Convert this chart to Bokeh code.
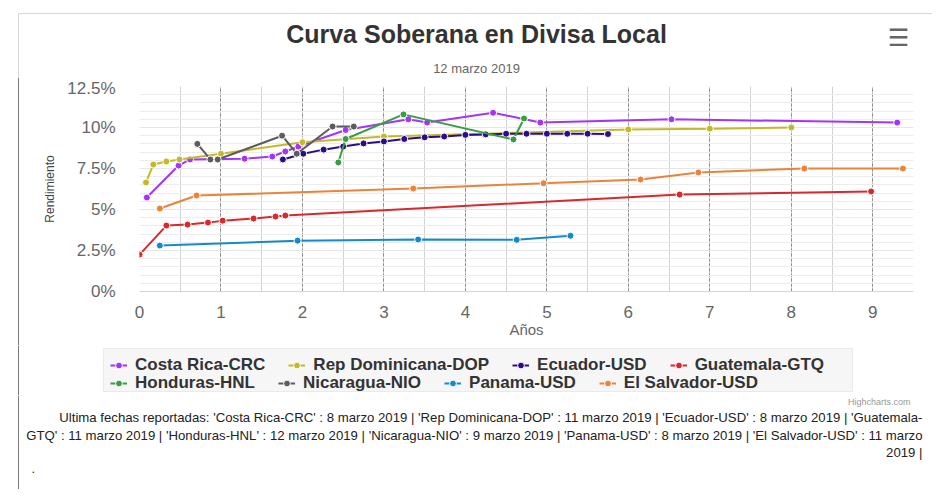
from bokeh.plotting import figure
from bokeh.layouts import column, row
from bokeh.models import (Range1d, SingleIntervalTicker, CustomJSTickFormatter, Label,
                          Legend, LegendItem, BoxAnnotation, Span, Spacer)
from bokeh.embed import file_html
from bokeh.resources import INLINE

# ---------------- data (years to maturity, yield %) ----------------
series_names = ["Costa Rica-CRC", "Rep Dominicana-DOP", "Ecuador-USD", "Guatemala-GTQ",
                "Honduras-HNL", "Nicaragua-NIO", "Panama-USD", "El Salvador-USD"]
series_colors = ["#a335f5", "#c2b92b", "#2b0c8a", "#d8292e",
                 "#3a9d46", "#5c5c5c", "#1789c9", "#e8843c"]

cr_x = [0.09, 0.48, 0.62, 1.29, 1.63, 1.79, 1.95, 2.53, 3.30, 3.53, 4.34, 4.92, 6.53, 9.30]
cr_y = [5.73, 7.68, 8.05, 8.10, 8.23, 8.54, 8.84, 9.85, 10.50, 10.30, 10.90, 10.30, 10.50, 10.30]

rd_x = [0.08, 0.17, 0.33, 0.49, 1.00, 2.00, 3.00, 6.00, 7.00, 8.00]
rd_y = [6.65, 7.74, 7.93, 8.05, 8.40, 9.10, 9.45, 9.88, 9.93, 10.00]

ec_x = [1.76, 2.01, 2.26, 2.50, 2.75, 3.00, 3.25, 3.50, 3.74, 4.00, 4.25, 4.50, 4.75, 5.00, 5.25, 5.50, 5.75]
ec_y = [8.05, 8.40, 8.65, 8.84, 9.03, 9.15, 9.30, 9.40, 9.45, 9.55, 9.58, 9.62, 9.62, 9.62, 9.62, 9.62, 9.60]

gt_x = [0.00, 0.33, 0.59, 0.84, 1.02, 1.40, 1.67, 1.79, 6.63, 8.98]
gt_y = [2.25, 4.02, 4.08, 4.20, 4.32, 4.45, 4.57, 4.63, 5.91, 6.10]

hn_x = [2.44, 2.53, 3.24, 4.59, 4.72]
hn_y = [7.87, 9.30, 10.80, 9.27, 10.55]

ni_x = [0.71, 0.87, 0.96, 1.75, 1.93, 2.37, 2.63]
ni_y = [9.00, 8.05, 8.05, 9.50, 8.40, 10.06, 10.06]

pa_x = [0.25, 1.94, 3.42, 4.63, 5.29]
pa_y = [2.80, 3.10, 3.17, 3.15, 3.40]

sv_x = [0.25, 0.70, 3.36, 4.96, 6.15, 6.86, 8.16, 9.37]
sv_y = [5.06, 5.85, 6.28, 6.60, 6.83, 7.26, 7.50, 7.50]

series_x = [cr_x, rd_x, ec_x, gt_x, hn_x, ni_x, pa_x, sv_x]
series_y = [cr_y, rd_y, ec_y, gt_y, hn_y, ni_y, pa_y, sv_y]

title_text = "Curva Soberana en Divisa Local"
subtitle_text = "12 marzo 2019"
x_label = "Años"
y_label = "Rendimiento"
credit_text = "Highcharts.com"
footer_lines = [
    "Ultima fechas reportadas: 'Costa Rica-CRC' : 8 marzo 2019 | 'Rep Dominicana-DOP' : 11 marzo 2019 | 'Ecuador-USD' : 8 marzo 2019 | 'Guatemala-",
    "GTQ' : 11 marzo 2019 | 'Honduras-HNL' : 12 marzo 2019 | 'Nicaragua-NIO' : 9 marzo 2019 | 'Panama-USD' : 8 marzo 2019 | 'El Salvador-USD' : 11 marzo",
    "2019 |",
]

# ---------------- layout geometry (page pixels) ----------------
W = 932
FONT = "Liberation Sans"
BORDER = "#7a7a7a"

H_HEAD = 78          # page y 0..78
H_MAIN = 267         # page y 78..345
H_LEG = 50           # page y 345..395
H_FOOT = 94          # page y 395..489
STRIP = 19           # left strip holding the outer frame line

FL, FT, FR, FB = 139, 86, 913, 291   # plot frame on page
XMAX, YMAX = 9.5, 12.5


def blank(width, height):
    f = figure(width=width, height=height, output_backend="svg", toolbar_location=None,
               x_range=Range1d(0, width), y_range=Range1d(height, 0),
               x_axis_location=None, y_axis_location=None, min_border=0)
    f.grid.visible = False
    f.outline_line_color = None
    f.background_fill_color = "white"
    f.border_fill_color = "white"
    return f


def add_label(f, x, y, text, size, color="#333333", align="center", style="normal", font=FONT):
    f.add_layout(Label(x=x, y=y, text=text, text_align=align, text_baseline="middle",
                       text_font=font, text_font_size=size, text_color=color,
                       text_font_style=style))


# ---------------- header ----------------
head = blank(W, H_HEAD)
head.add_layout(BoxAnnotation(left=18, right=W + 20, top=13, bottom=H_HEAD + 20,
                              fill_alpha=0, line_color=BORDER, line_width=1))
add_label(head, 476, 33, title_text, "25px", "#333333", style="bold")
add_label(head, 476, 68, subtitle_text, "13px", "#666666")
add_label(head, 898, 37, "☰", "24px", "#666666", style="bold", font="DejaVu Sans")

# ---------------- main chart ----------------
strip = Spacer(width=STRIP, height=H_MAIN,
               styles={"background": "linear-gradient(to right, white 18px, %s 18px, %s 19px)"
                                     % (BORDER, BORDER)})

p = figure(width=W - STRIP, height=H_MAIN, output_backend="svg", toolbar_location=None,
           x_range=Range1d(0, XMAX), y_range=Range1d(0, YMAX),
           min_border_left=FL - STRIP, min_border_right=W - FR,
           min_border_top=FT - H_HEAD, min_border_bottom=H_HEAD + H_MAIN - FB)
p.outline_line_color = None
p.background_fill_color = "white"
p.border_fill_color = "white"

p.xaxis.ticker = SingleIntervalTicker(interval=1, num_minor_ticks=2)
p.yaxis.ticker = SingleIntervalTicker(interval=2.5, num_minor_ticks=5)
p.yaxis.formatter = CustomJSTickFormatter(code="return tick + '%';")
for ax in (p.xaxis, p.yaxis):
    ax.major_tick_line_color = None
    ax.minor_tick_line_color = None
    ax.major_label_text_font = FONT
    ax.major_label_text_color = "#666666"
    ax.major_label_text_font_size = "17px"
    ax.axis_label_text_font = FONT
    ax.axis_label_text_font_style = "normal"
p.xaxis.axis_line_color = "#ccd6eb"
p.yaxis.axis_line_color = None
p.xaxis.major_label_standoff = 8
p.yaxis.major_label_standoff = 18
p.xaxis.axis_label = x_label
p.xaxis.axis_label_text_font_size = "15px"
p.xaxis.axis_label_text_color = "#666666"
p.xaxis.axis_label_standoff = 0
p.yaxis.axis_label = y_label
p.yaxis.axis_label_text_font_size = "12px"
p.yaxis.axis_label_text_color = "#444444"
p.yaxis.axis_label_standoff = 7

p.xgrid.grid_line_color = "#8a8a8a"
p.xgrid.grid_line_dash = "3 2"
p.xgrid.minor_grid_line_color = "#d2d2d2"
p.ygrid.grid_line_color = "#e6e6e6"
p.ygrid.minor_grid_line_color = "#ececec"

for name, col, xs, ys in zip(series_names, series_colors, series_x, series_y):
    p.line(xs, ys, line_color=col, line_width=2)
    p.scatter(xs, ys, size=7, fill_color=col, line_color="white", line_width=1)

# ---------------- legend ----------------
leg = blank(W, H_LEG)
leg.add_layout(Span(location=18, dimension="height", line_color=BORDER, line_width=1))
leg.add_layout(BoxAnnotation(left=103, right=852, top=3, bottom=46,
                             fill_color="#f6f6f6", fill_alpha=1.0,
                             line_color="#c8c8c8", line_width=1))
NAN = float("nan")
items = []
for name, col in zip(series_names, series_colors):
    # legend-only proxies (no visible data); they carry the series styles
    lr = leg.line([NAN], [NAN], line_color=col, line_width=2)
    sr = leg.scatter([NAN], [NAN], size=6, fill_color=col, line_color="white", line_width=1)
    items.append(LegendItem(label=name, renderers=[lr, sr]))


def make_legend(its, loc):
    return Legend(items=its, orientation="horizontal", location=loc,
                  padding=0, margin=0, spacing=23, glyph_width=17, glyph_height=18,
                  label_standoff=8, label_height=18,
                  label_text_font=FONT, label_text_font_size="17px",
                  label_text_font_style="bold", label_text_color="#333333",
                  background_fill_alpha=0, border_line_alpha=0)


ROW_H = 20
row1_c, row2_c = 20, 38          # row centres within legend strip (page 365 / 383)
leg.add_layout(make_legend(items[:4], (110, int(H_LEG - (row1_c + ROW_H / 2)))), "center")
leg.add_layout(make_legend(items[4:], (110, int(H_LEG - (row2_c + ROW_H / 2)))), "center")

# ---------------- footer ----------------
foot = blank(W, H_FOOT)
foot.add_layout(Span(location=18, dimension="height", line_color=BORDER, line_width=1))
add_label(foot, 910, 6, credit_text, "9px", "#999999", align="right")
for line, y in zip(footer_lines, [22, 40, 57]):
    add_label(foot, 922, y, line, "13.2px", "#222222", align="right")
add_label(foot, 31, 73, ".", "13px", "#222222", align="left")

layout = column(head, row(strip, p), leg, foot)
open("out.html", "w").write(file_html(layout, INLINE))
